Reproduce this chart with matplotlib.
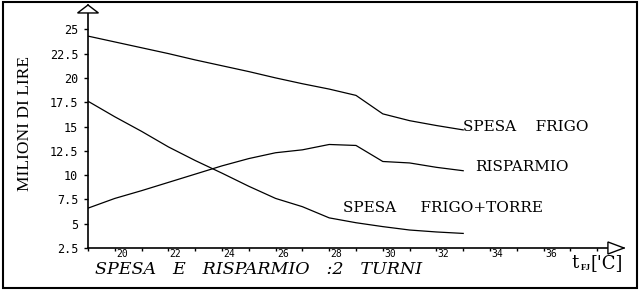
import matplotlib
matplotlib.use("Agg")
import matplotlib.pyplot as plt
from matplotlib.patches import Polygon, Rectangle

# temperature (x) and the three curves, in millions of lire
t_fi = [19, 20, 21, 22, 23, 24, 25, 26, 27, 28, 29, 30, 31, 32, 33]
spesa_frigo = [24.3, 23.7, 23.1, 22.5, 21.85, 21.25, 20.65, 20.0, 19.4, 18.85, 18.2, 16.3, 15.6, 15.1, 14.65]
risparmio = [6.6, 7.6, 8.4, 9.25, 10.1, 10.95, 11.7, 12.3, 12.6, 13.15, 13.05, 11.4, 11.25, 10.8, 10.45]
spesa_frigo_torre = [17.6, 16.0, 14.5, 12.9, 11.5, 10.2, 8.85, 7.6, 6.75, 5.6, 5.1, 4.7, 4.35, 4.15, 4.0]

y_ticks = [2.5, 5, 7.5, 10, 12.5, 15, 17.5, 20, 22.5, 25]
y_tick_labels = ["2.5", "5", "7.5", "10", "12.5", "15", "17.5", "20", "22.5", "25"]
x_ticks = list(range(19, 39))
x_tick_labels = [20, 22, 24, 26, 28, 30, 32, 34, 36]

W, H = 640, 290
fig = plt.figure(figsize=(W / 100, H / 100), dpi=100)
ax = fig.add_axes([88 / W, 1 - 248 / H, (624 - 88) / W, (248 - 5) / H])

for ys in (spesa_frigo, risparmio, spesa_frigo_torre):
    ax.plot(t_fi, ys, color="black", lw=0.9)

ax.set_xlim(19, 39)
ax.set_ylim(2.5, 27.5)
for side in ("top", "right"):
    ax.spines[side].set_visible(False)
for side in ("left", "bottom"):
    ax.spines[side].set_linewidth(1.2)

ax.set_yticks(y_ticks)
ax.set_yticklabels(y_tick_labels, family="DejaVu Sans Mono", fontsize=8.5)
ax.tick_params(axis="y", direction="out", length=3, width=1, pad=4)
ax.set_xticks(x_ticks)
ax.set_xticklabels([])
ax.tick_params(axis="x", direction="out", length=2.5, width=1)

# x tick labels sit just to the right of their tick
for v in x_tick_labels:
    ax.annotate(str(v), (v, 0), xycoords=("data", "axes fraction"),
                xytext=(1, -1), textcoords="offset points",
                ha="left", va="top", family="DejaVu Sans Mono", fontsize=7)

# open arrow heads on both axes
ax.add_patch(Polygon([(18.61, 26.68), (19.39, 26.68), (19, 27.5)], closed=True,
                     facecolor="white", edgecolor="black", lw=1, clip_on=False, zorder=5))
ax.add_patch(Polygon([(38.4, 1.88), (38.4, 3.12), (39, 2.5)], closed=True,
                     facecolor="white", edgecolor="black", lw=1, clip_on=False, zorder=5))

# curve labels
lab = dict(family="DejaVu Serif", fontsize=11, va="center", ha="left")
ax.text(33.0, 14.95, "SPESA    FRIGO", **lab)
ax.text(33.45, 10.83, "RISPARMIO", **lab)
ax.text(28.5, 6.6, "SPESA     FRIGO+TORRE", **lab)

fig.text(25.5 / W, 1 - 123 / H, "MILIONI DI LIRE", rotation=90, ha="center", va="center",
         family="Liberation Serif", fontsize=12.5)
fig.text(95 / W, 1 - 269.5 / H, "SPESA   E   RISPARMIO   :2   TURNI", ha="left", va="center",
         family="DejaVu Serif", style="italic", fontsize=12.6)

# x axis label t_FJ ['C]
fig.text(571 / W, 1 - 263 / H, "t", ha="left", va="center", family="DejaVu Serif", fontsize=13)
fig.text(580.5 / W, 1 - 267.5 / H, "FJ", ha="left", va="center", family="Liberation Serif",
         fontsize=6.5, weight="bold")
fig.text(591 / W, 1 - 263 / H, "['C]", ha="left", va="center", family="DejaVu Serif", fontsize=13)

fig.add_artist(Rectangle((3 / W, 2 / H), 634 / W, 286 / H, transform=fig.transFigure,
                         fill=False, edgecolor="black", lw=1.5))

fig.savefig("out.png", dpi=100)
